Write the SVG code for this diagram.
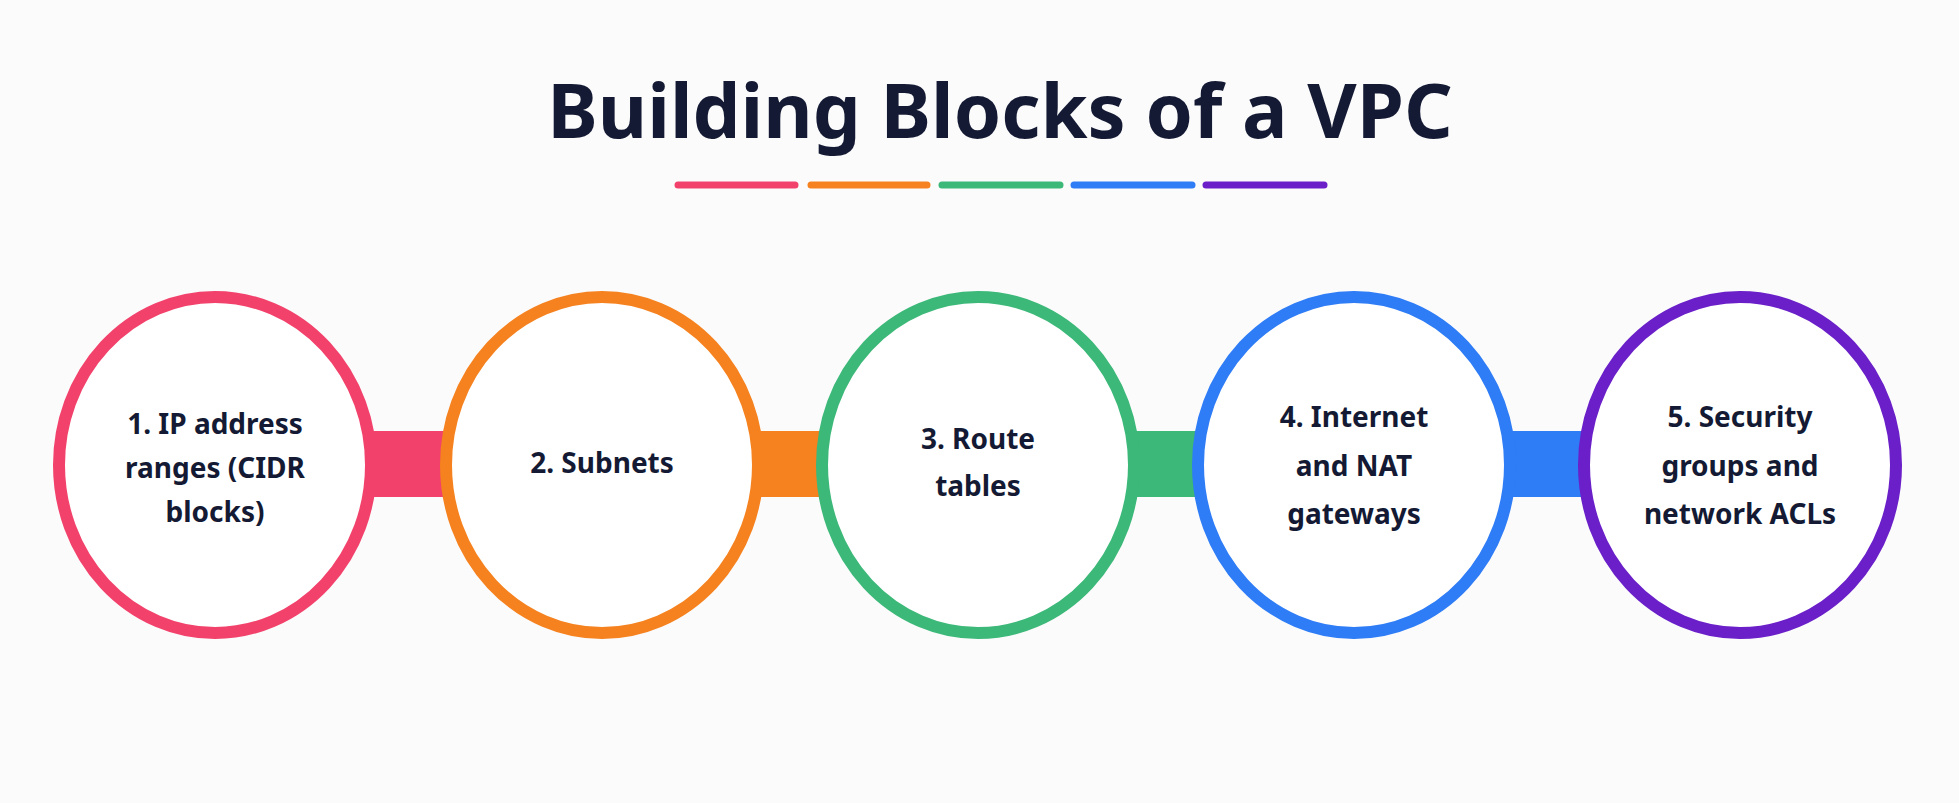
<svg xmlns="http://www.w3.org/2000/svg" width="1959" height="803" viewBox="0 0 1959 803">
<style>
.t{font-family:"Noto Sans","Open Sans",sans-serif;font-weight:700;font-size:28px;fill:#141a33;text-anchor:middle;dominant-baseline:central}
.c{fill:#fff;stroke-width:12}
.u{stroke-width:7;stroke-linecap:round}
</style>
<rect width="1959" height="803" fill="#fbfbfc"/>
<text x="1000" y="108" class="t" style="font-size:76px">Building Blocks of a VPC</text>
<g id="underline">
<line class="u" x1="678" y1="185" x2="795" y2="185" stroke="#f2426b"/>
<line class="u" x1="811" y1="185" x2="927" y2="185" stroke="#f5821f"/>
<line class="u" x1="942" y1="185" x2="1060" y2="185" stroke="#3cb878"/>
<line class="u" x1="1074" y1="185" x2="1192" y2="185" stroke="#2e7cf6"/>
<line class="u" x1="1206" y1="185" x2="1324" y2="185" stroke="#6a1fc8"/>
</g>
<g id="connectors">
<rect x="360" y="431" width="100" height="66" fill="#f2426b"/>
<rect x="745" y="431" width="100" height="66" fill="#f5821f"/>
<rect x="1120" y="431" width="100" height="66" fill="#3cb878"/>
<rect x="1495" y="431" width="100" height="66" fill="#2e7cf6"/>
</g>
<g id="n1"><ellipse class="c" cx="215" cy="465" rx="156" ry="168" stroke="#f2426b"/>
<text class="t" x="215" y="423">1. IP address</text><text class="t" x="215" y="467">ranges (CIDR</text><text class="t" x="215" y="511">blocks)</text></g>
<g id="n2"><ellipse class="c" cx="602" cy="465" rx="156" ry="168" stroke="#f5821f"/>
<text class="t" x="602" y="462">2. Subnets</text></g>
<g id="n3"><ellipse class="c" cx="978" cy="465" rx="156" ry="168" stroke="#3cb878"/>
<text class="t" x="978" y="438">3. Route</text><text class="t" x="978" y="485">tables</text></g>
<g id="n4"><ellipse class="c" cx="1354" cy="465" rx="156" ry="168" stroke="#2e7cf6"/>
<text class="t" x="1354" y="416">4. Internet</text><text class="t" x="1354" y="465">and NAT</text><text class="t" x="1354" y="513">gateways</text></g>
<g id="n5"><ellipse class="c" cx="1740" cy="465" rx="156" ry="168" stroke="#6a1fc8"/>
<text class="t" x="1740" y="416">5. Security</text><text class="t" x="1740" y="465">groups and</text><text class="t" x="1740" y="513">network ACLs</text></g>
</svg>
